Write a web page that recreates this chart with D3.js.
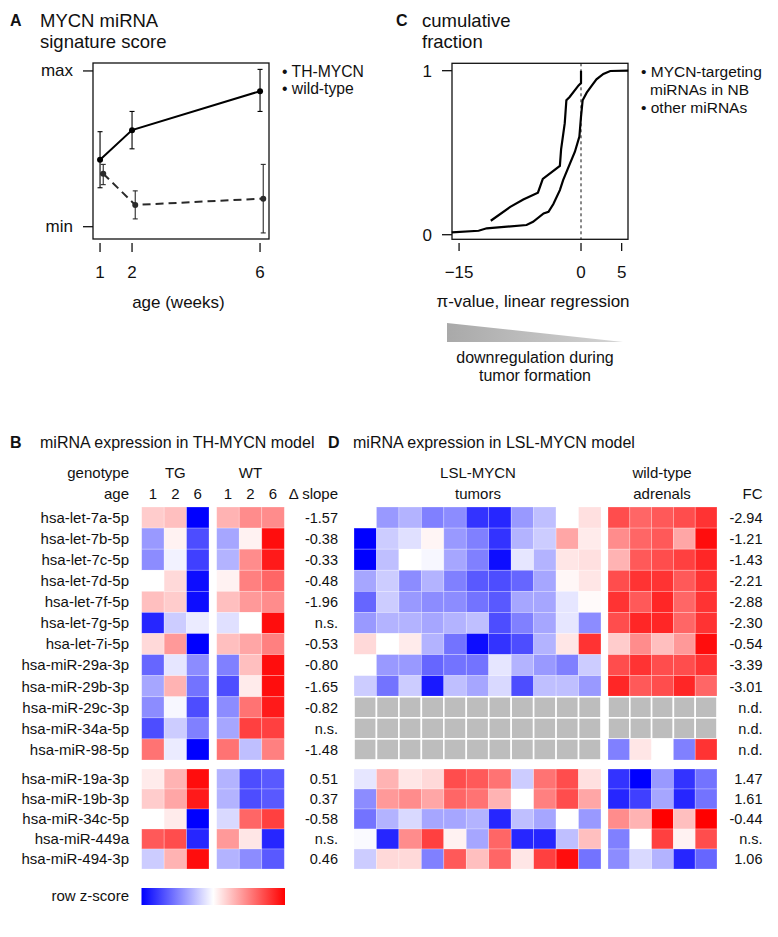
<!DOCTYPE html>
<html><head><meta charset="utf-8">
<script src="https://cdn.jsdelivr.net/npm/d3@7"></script>
<style>
body{margin:0;background:#fff;}
svg{font-family:"Liberation Sans",Arial,Helvetica,sans-serif;}
</style></head>
<body><svg id="fig" width="778" height="937"></svg>
<script>
// ---------- Panel A data ----------
const ages = [1, 2, 6];
const thMycnMean = [0.43, 0.62, 0.87];
const thMycnLo = [0.25, 0.50, 0.74];
const thMycnHi = [0.61, 0.74, 1.01];
const wtAges = [1.1, 2.1, 6.1];
const wtMean = [0.34, 0.14, 0.18];
const wtLo = [0.27, 0.05, -0.04];
const wtHi = [0.40, 0.23, 0.40];
const yTickLabelsA = ["min", "max"];

// ---------- Panel C data ----------
const targetPi = [-11.1, -8.7, -7.1, -5.3, -4.7, -2.6, -2.45, -2.0, -1.8, -1.4, -0.3, 0, 0];
const targetFrac = [0.085, 0.17, 0.215, 0.256, 0.34, 0.42, 0.52, 0.68, 0.82, 0.84, 0.91, 0.925, 1.0];
const otherPi = [-15.9, -12.6, -11.6, -6.7, -5.9, -4.6, -4.0, -3.4, -2.6, -2.2, -1.35, -0.75, -0.2, 0, 0.2, 0.7, 1.3, 1.9, 2.75, 3.6, 5.8];
const otherFrac = [0.014, 0.024, 0.039, 0.059, 0.079, 0.13, 0.14, 0.187, 0.272, 0.333, 0.435, 0.506, 0.598, 0.72, 0.82, 0.866, 0.907, 0.947, 0.98, 0.998, 1.0];
const xTicksC = [-15, 0, 5];
const yTicksC = [0, 1];

// ---------- Heatmap data ----------
const mirnas = ["hsa-let-7a-5p","hsa-let-7b-5p","hsa-let-7c-5p","hsa-let-7d-5p","hsa-let-7f-5p","hsa-let-7g-5p","hsa-let-7i-5p","hsa-miR-29a-3p","hsa-miR-29b-3p","hsa-miR-29c-3p","hsa-miR-34a-5p","hsa-miR-98-5p","hsa-miR-19a-3p","hsa-miR-19b-3p","hsa-miR-34c-5p","hsa-miR-449a","hsa-miR-494-3p"];
const slopeLabels = ["-1.57","-0.38","-0.33","-0.48","-1.96","n.s.","-0.53","-0.80","-1.65","-0.82","n.s.","-1.48","0.51","0.37","-0.58","n.s.","0.46"];
const fcLabels = ["-2.94","-1.21","-1.43","-2.21","-2.88","-2.30","-0.54","-3.39","-3.01","n.d.","n.d.","n.d.","1.47","1.61","-0.44","n.s.","1.06"];
const ageLabels = ["1","2","6"];
// TH-MYCN model, scaled row z-scores (TG weeks 1,2,6)
const thTG = [
 [0.2,0.25,-1.0],[-0.4,0.05,-0.7],[-0.45,-0.05,-0.75],[0.0,0.15,-0.95],[0.25,0.2,-0.95],[-0.85,-0.2,-0.08],
 [0.15,0.4,-1.0],[-0.6,-0.1,-0.45],[-0.35,0.3,-0.55],[-0.45,-0.03,-0.7],[-0.7,-0.2,-0.5],[0.55,-0.08,-1.0],
 [0.08,0.3,0.95],[0.2,0.35,0.9],[0.0,0.08,-1.0],[0.65,0.7,-0.85],[-0.2,0.3,0.95]];
// WT weeks 1,2,6
const thWT = [
 [0.3,0.45,0.45],[-0.35,0.05,0.95],[-0.3,0.45,0.9],[0.05,0.5,0.6],[0.25,0.4,0.45],[-0.12,0.0,0.95],
 [0.25,0.35,0.5],[-0.5,0.25,0.95],[-0.7,0.08,0.95],[-0.45,0.55,0.9],[-0.35,0.75,0.75],[0.55,-0.25,0.5],
 [-0.3,-0.7,-0.65],[-0.3,-0.7,-0.65],[-0.15,0.6,0.75],[0.4,0.1,-0.85],[-0.3,-0.45,-0.65]];
// LSL-MYCN tumors (11), null = not detected
const lslTumor = [
 [0,-0.4,-0.3,-0.5,-0.45,-0.8,-0.85,-0.4,-0.25,0,0.12],
 [-1.0,-0.2,-0.12,0.04,-0.4,-0.5,-0.8,-0.3,-0.2,0.35,0.08],
 [-1.0,-0.25,0,-0.03,-0.35,-0.5,-0.95,-0.1,-0.3,0.1,0.12],
 [-0.35,-0.2,-0.45,-0.3,-0.5,-0.65,-0.7,-0.6,-0.35,0.03,0.1],
 [-0.6,-0.2,-0.4,-0.45,-0.45,-0.55,-0.65,-0.35,-0.35,-0.1,0.02],
 [-0.4,-0.3,-0.3,-0.35,-0.3,-0.25,-0.7,-0.5,-0.35,-0.1,-0.45],
 [0.15,0,0.08,-0.3,-0.55,-0.95,-0.8,-0.7,-0.3,0.1,0.8],
 [0,-0.4,-0.4,-0.6,-0.55,-0.55,-0.1,-0.3,-0.4,-0.5,-0.2],
 [-0.2,-0.55,-0.2,-0.9,-0.25,-0.35,-0.15,-0.7,-0.25,-0.25,-0.4],
 [null,null,null,null,null,null,null,null,null,null,null],
 [null,null,null,null,null,null,null,null,null,null,null],
 [null,null,null,null,null,null,null,null,null,null,null],
 [-0.1,0.3,0.1,0.15,0.7,0.65,0.55,-0.2,0.55,0.7,0.12],
 [-0.45,0.4,0.45,0.35,0.6,0.55,0.3,0,0.5,0.7,0.35],
 [-0.55,-0.3,-0.15,-0.35,-0.35,-0.3,-0.85,-0.25,-0.35,0,-0.4],
 [-0.02,-0.85,0.45,0.75,0.05,-0.35,0.6,-0.85,-0.85,-0.25,0.25],
 [-0.2,0.15,0.15,-0.5,0.65,0.25,0.6,0.1,0.75,0.95,-0.55]];
// wild-type adrenals (5)
const lslAdrenal = [
 [0.7,0.6,0.65,0.7,0.8],[0.45,0.6,0.65,0.35,0.95],[0.3,0.65,0.7,0.75,0.85],[0.7,0.8,0.8,0.65,0.8],
 [0.8,0.65,0.85,0.6,0.8],[0.7,0.85,0.85,0.6,0.8],[0.2,0.45,0.25,0.4,0.95],[0.7,0.8,0.7,0.7,0.8],
 [0.85,0.65,0.7,0.85,0.6],[null,null,null,null,null],[null,null,null,null,null],[-0.5,0.1,0,-0.5,0.8],
 [-0.8,-1.0,-0.4,-0.8,-0.55],[-0.85,-0.75,-0.35,-0.85,-0.55],[0.45,0.3,1.0,0.25,1.0],
 [-0.5,0,0.75,0.05,0.7],[-0.45,-0.15,-0.3,-0.85,-0.6]];

// ---------- drawing ----------
const svg = d3.select("#fig");
const F = "Liberation Sans, Arial, sans-serif";
function txt(g, x, y, s, size, anchor, weight) {
  return g.append("text").attr("x", x).attr("y", y).text(s)
    .attr("font-size", size).attr("text-anchor", anchor || "start")
    .attr("font-weight", weight || "normal").attr("fill", "#111");
}

// ===== Panel A =====
const A = svg.append("g");
txt(A, 10, 26, "A", 16, "start", "bold");
txt(A, 40, 27, "MYCN miRNA", 18.5);
txt(A, 40, 48, "signature score", 18.5);
const xA = d3.scaleLinear().domain([0.78, 6.28]).range([93, 269]);
const yA = d3.scaleLinear().domain([-0.079, 1.051]).range([239, 63]);
A.append("rect").attr("x", xA.range()[0]).attr("y", yA.range()[1])
  .attr("width", xA.range()[1]-xA.range()[0]).attr("height", yA.range()[0]-yA.range()[1])
  .attr("fill", "none").attr("stroke", "#111").attr("stroke-width", 1.3);
[0, 1].forEach((v, i) => {
  A.append("line").attr("x1", xA.range()[0]-10).attr("x2", xA.range()[0])
    .attr("y1", yA(v)).attr("y2", yA(v)).attr("stroke", "#111").attr("stroke-width", 1.3);
  txt(A, xA.range()[0]-20, yA(v)+5, yTickLabelsA[i], 17, "end");
});
ages.forEach(a => {
  A.append("line").attr("x1", xA(a)).attr("x2", xA(a)).attr("y1", 243).attr("y2", 252)
    .attr("stroke", "#111").attr("stroke-width", 1.3);
  txt(A, xA(a), 278, String(a), 17, "middle");
});
txt(A, xA(3.45), 308, "age (weeks)", 17, "middle");
function series(g, xs, m, lo, hi, col, dash) {
  const pts = xs.map((x, i) => [xA(x), yA(m[i])]);
  g.append("path").attr("d", d3.line()(pts)).attr("fill", "none")
    .attr("stroke", col).attr("stroke-width", 2).attr("stroke-dasharray", dash || null);
  xs.forEach((x, i) => {
    g.append("line").attr("x1", xA(x)).attr("x2", xA(x)).attr("y1", yA(lo[i])).attr("y2", yA(hi[i]))
      .attr("stroke", col).attr("stroke-width", 1.1);
    [lo[i], hi[i]].forEach(v => g.append("line").attr("x1", xA(x)-2.5).attr("x2", xA(x)+2.5)
      .attr("y1", yA(v)).attr("y2", yA(v)).attr("stroke", col).attr("stroke-width", 1.1));
    g.append("circle").attr("cx", xA(x)).attr("cy", yA(m[i])).attr("r", 3).attr("fill", col);
  });
}
series(A, wtAges, wtMean, wtLo, wtHi, "#2a2a2a", "8,5");
series(A, ages, thMycnMean, thMycnLo, thMycnHi, "#000", null);
txt(A, 282, 77, "\u2022 TH-MYCN", 15.7);
txt(A, 282, 94, "\u2022 wild-type", 15.7);

// ===== Panel C =====
const C = svg.append("g");
txt(C, 396, 26, "C", 16, "start", "bold");
txt(C, 422, 27, "cumulative", 18.5);
txt(C, 422, 48, "fraction", 18.5);
const xC = d3.scaleLinear().domain([-15.87, 5.78]).range([452, 628]);
const yC = d3.scaleLinear().domain([-0.028, 1.045]).range([239.3, 63.3]);
C.append("rect").attr("x", 452).attr("y", yC.range()[1]).attr("width", 176)
  .attr("height", yC.range()[0]-yC.range()[1]).attr("fill", "none").attr("stroke", "#111").attr("stroke-width", 1.3);
yTicksC.forEach(v => {
  C.append("line").attr("x1", 442).attr("x2", 452).attr("y1", yC(v)).attr("y2", yC(v))
    .attr("stroke", "#111").attr("stroke-width", 1.3);
  txt(C, 432, yC(v)+6, String(v), 17, "end");
});
xTicksC.forEach(v => {
  C.append("line").attr("x1", xC(v)).attr("x2", xC(v)).attr("y1", 243).attr("y2", 251)
    .attr("stroke", "#111").attr("stroke-width", 1.3);
  txt(C, xC(v), 278, v < 0 ? "\u2212" + Math.abs(v) : String(v), 17, "middle");
});
C.append("line").attr("x1", xC(0)).attr("x2", xC(0)).attr("y1", yC.range()[1]).attr("y2", yC.range()[0])
  .attr("stroke", "#111").attr("stroke-width", 1).attr("stroke-dasharray", "3,3");
const lineC = d3.line().x(d => xC(d[0])).y(d => yC(d[1]));
C.append("path").attr("d", lineC(otherPi.map((p, i) => [p, otherFrac[i]])))
  .attr("fill", "none").attr("stroke", "#000").attr("stroke-width", 2.2);
C.append("path").attr("d", lineC(targetPi.map((p, i) => [p, targetFrac[i]])))
  .attr("fill", "none").attr("stroke", "#000").attr("stroke-width", 2.2);
txt(C, 641, 77, "\u2022 MYCN-targeting", 15.5);
txt(C, 650, 95, "miRNAs in NB", 15.5);
txt(C, 641, 113, "\u2022 other miRNAs", 15.5);
txt(C, 533, 307, "\u03c0-value, linear regression", 17, "middle");
const defs = svg.append("defs");
const tg = defs.append("linearGradient").attr("id", "tri");
tg.append("stop").attr("offset", "0%").attr("stop-color", "#a9a9a9");
tg.append("stop").attr("offset", "100%").attr("stop-color", "#d4d4d4");
C.append("path").attr("d", d3.line()([[447, 323], [623, 342], [447, 342]]) + "Z").attr("fill", "url(#tri)");
txt(C, 535, 363, "downregulation during", 16, "middle");
txt(C, 535, 381, "tumor formation", 16, "middle");

// ===== Heatmaps =====
const color = d3.scaleLinear().domain([-1, 0, 1]).range(["#0000ff", "#ffffff", "#ff0000"]);
const rowsG1 = d3.range(0, 12), rowsG2 = d3.range(12, 17);
const y1 = d3.scaleBand().domain(rowsG1).range([507, 760]);
const y2 = d3.scaleBand().domain(rowsG2).range([769, 869]);
const yRow = i => (i < 12 ? y1(i) : y2(i));
const hRow = i => (i < 12 ? y1.bandwidth() : y2.bandwidth());

function heat(g, mat, xs) {
  mat.forEach((row, i) => row.forEach((v, j) => {
    const na = v === null;
    g.append("rect").attr("x", xs(j)).attr("y", yRow(i)).attr("width", xs.bandwidth()).attr("height", hRow(i))
      .attr("fill", na ? "#bdbdbd" : color(v))
      .attr("stroke", na ? "#fff" : "rgba(255,255,255,0.35)").attr("stroke-width", na ? 1.6 : 0.7);
  }));
}

// Panel B
const B = svg.append("g");
txt(B, 10, 448, "B", 16, "start", "bold");
txt(B, 40, 448, "miRNA expression in TH-MYCN model", 16);
txt(B, 129, 478, "genotype", 15, "end");
txt(B, 129, 499, "age", 15, "end");
const xTG = d3.scaleBand().domain([0, 1, 2]).range([141.7, 209]);
const xWT = d3.scaleBand().domain([0, 1, 2]).range([216.7, 284.3]);
txt(B, (141.7 + 209) / 2, 478, "TG", 15, "middle");
txt(B, (216.7 + 284.3) / 2, 478, "WT", 15, "middle");
[xTG, xWT].forEach(s => ageLabels.forEach((a, j) => txt(B, s(j) + s.bandwidth()/2, 499, a, 15, "middle")));
txt(B, 338, 499, "\u0394 slope", 15, "end");
mirnas.forEach((m, i) => {
  txt(B, 129, yRow(i) + hRow(i)/2 + 5.3, m, 15, "end");
  txt(B, 338, yRow(i) + hRow(i)/2 + 5.3, slopeLabels[i], 14.5, "end");
});
heat(B, thTG, xTG);
heat(B, thWT, xWT);
// colour key
const cg = defs.append("linearGradient").attr("id", "zkey");
[[-1, "0%"], [-0.5, "25%"], [0, "50%"], [0.5, "75%"], [1, "100%"]].forEach(d =>
  cg.append("stop").attr("offset", d[1]).attr("stop-color", color(d[0])));
B.append("rect").attr("x", 141.5).attr("y", 888).attr("width", 143.5).attr("height", 17).attr("fill", "url(#zkey)");
txt(B, 129, 901, "row z-score", 15, "end");

// Panel D
const D = svg.append("g");
txt(D, 328, 448, "D", 16, "start", "bold");
txt(D, 353, 448, "miRNA expression in LSL-MYCN model", 16);
const xTu = d3.scaleBand().domain(d3.range(11)).range([354, 601]);
const xAd = d3.scaleBand().domain(d3.range(5)).range([608, 717]);
txt(D, 478, 478, "LSL-MYCN", 15, "middle");
txt(D, 478, 499, "tumors", 15, "middle");
txt(D, 662, 478, "wild-type", 15, "middle");
txt(D, 662, 499, "adrenals", 15, "middle");
txt(D, 762.5, 499, "FC", 15, "end");
mirnas.forEach((m, i) => txt(D, 762.5, yRow(i) + hRow(i)/2 + 5.3, fcLabels[i], 14.5, "end"));
heat(D, lslTumor, xTu);
heat(D, lslAdrenal, xAd);
</script></body></html>
